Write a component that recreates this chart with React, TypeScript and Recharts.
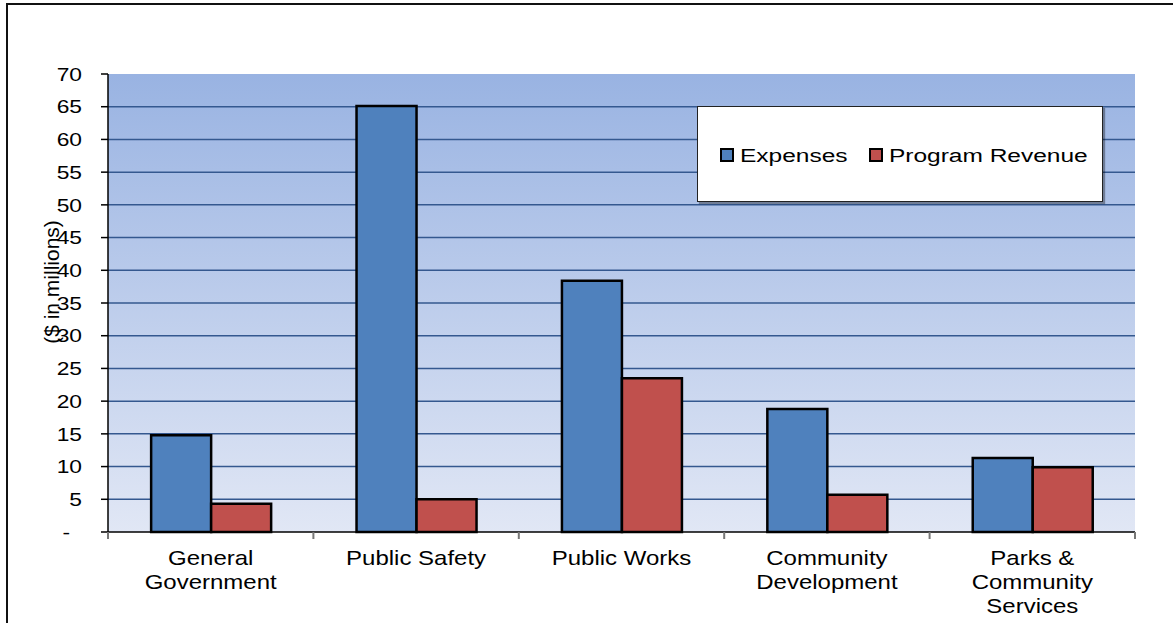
import React from 'react';
import { BarChart, Bar, XAxis, YAxis, CartesianGrid, Legend } from 'recharts';

const categories = [
  'General\nGovernment',
  'Public Safety',
  'Public Works',
  'Community\nDevelopment',
  'Parks &\nCommunity\nServices',
];
const expenses = [14.8, 65.1, 38.4, 18.8, 11.3];
const programRevenue = [4.3, 5.0, 23.5, 5.7, 9.9];
const yTicks = [0, 5, 10, 15, 20, 25, 30, 35, 40, 45, 50, 55, 60, 65, 70];
const gridValues = [5, 10, 15, 20, 25, 30, 35, 40, 45, 50, 55, 60, 65];

const data = categories.map((c, i) => ({
  name: c,
  expenses: expenses[i],
  revenue: programRevenue[i],
}));

const FONT = '"Liberation Sans", Arial, sans-serif';

function CategoryTick(props: any) {
  const { x, y, payload, index } = props;
  const lines = String(payload.value).split('\n');
  const half = payload.offset || 0;
  const axisY = 532;
  const last = index === categories.length - 1;
  return (
    <g>
      {/* tick marks sit on the category boundaries, not the centres */}
      <line x1={x - half} x2={x - half} y1={axisY} y2={axisY + 7} stroke="#777" strokeWidth={2} />
      {last && <line x1={x + half} x2={x + half} y1={axisY} y2={axisY + 7} stroke="#777" strokeWidth={2} />}
      <g transform={`translate(${x},${y}) scale(1.2,1)`}>
        <text textAnchor="middle" fontFamily={FONT} fontSize={20} fill="#000">
          {lines.map((l, i) => (
            <tspan key={i} x={0} y={25 + i * 24}>
              {l}
            </tspan>
          ))}
        </text>
      </g>
    </g>
  );
}

function ValueTick(props: any) {
  const { x, y, payload } = props;
  const v = payload.value;
  const right = v === 0 ? x - 12 : x;
  return (
    <g transform={`translate(${right},${y}) scale(1.2,1)`}>
      <text textAnchor="end" dy="0.35em" fontFamily={FONT} fontSize={19} fill="#000">
        {v === 0 ? '-' : v}
      </text>
    </g>
  );
}

function LegendBox(props: any) {
  const items = props.payload || [];
  const xs = [23, 172];
  return (
    <div
      style={{
        width: 406,
        height: 96,
        background: '#fff',
        border: '1px solid #222',
        boxShadow: '2px 2px 1px rgba(0,0,0,0.35)',
        boxSizing: 'border-box',
      }}
    >
      <svg width={404} height={94}>
        {items.map((it: any, i: number) => (
          <g key={i}>
            <rect x={xs[i]} y={42} width={12} height={12} fill={it.color} stroke="#000" strokeWidth={2} />
            <g transform={`translate(${xs[i] + 19},55) scale(1.29,1)`}>
              <text fontFamily={FONT} fontSize={19} fill="#000">
                {it.value}
              </text>
            </g>
          </g>
        ))}
      </svg>
    </div>
  );
}

export default function App() {
  return (
    <div style={{ position: 'fixed', left: 0, top: 0, width: 1173, height: 623, overflow: 'hidden', background: '#fff' }}>
      <div
        style={{
          position: 'absolute',
          left: 6,
          top: 3,
          width: 1175,
          height: 700,
          border: '2px solid #111',
        }}
      />
      <div style={{ position: 'absolute', left: 0, top: 0 }}>
        <BarChart
          width={1173}
          height={623}
          data={data}
          margin={{ top: 74, right: 38, bottom: 0, left: 0 }}
          barCategoryGap="21%"
          barGap={0}
        >
          <defs>
            <linearGradient id="plotBg" x1="0" y1="0" x2="0" y2="1">
              <stop offset="0%" stopColor="#99b3e2" />
              <stop offset="100%" stopColor="#e1e7f5" />
            </linearGradient>
          </defs>
          <CartesianGrid
            vertical={false}
            fill="url(#plotBg)"
            fillOpacity={1}
            stroke="#34588f"
            strokeWidth={1.5}
            horizontalValues={gridValues}
          />
          <XAxis
            dataKey="name"
            interval={0}
            height={91}
            axisLine={{ stroke: '#000', strokeWidth: 1.5 }}
            tickLine={false}
            tick={<CategoryTick />}
          />
          <YAxis
            width={108}
            domain={[0, 70]}
            ticks={yTicks}
            interval={0}
            axisLine={{ stroke: '#000', strokeWidth: 1.5 }}
            tickLine={{ stroke: '#000', strokeWidth: 1.5 }}
            tickSize={7}
            tickMargin={19}
            tick={<ValueTick />}
            label={{
              content: () => (
                <g transform="translate(52,282) rotate(-90)">
                  <text textAnchor="middle" dy="0.35em" fontFamily={FONT} fontSize={21} fill="#000">
                    ($ in millions)
                  </text>
                </g>
              ),
            }}
          />
          <Legend
            layout="horizontal"
            verticalAlign="middle"
            align="center"
            content={<LegendBox />}
            wrapperStyle={{ left: 697, top: 106, width: 406, height: 96 }}
          />
          <Bar dataKey="expenses" name="Expenses" fill="#4f81bd" stroke="#000" strokeWidth={2.5} isAnimationActive={false} />
          <Bar dataKey="revenue" name="Program Revenue" fill="#c0504d" stroke="#000" strokeWidth={2.5} isAnimationActive={false} />
        </BarChart>
      </div>
    </div>
  );
}
